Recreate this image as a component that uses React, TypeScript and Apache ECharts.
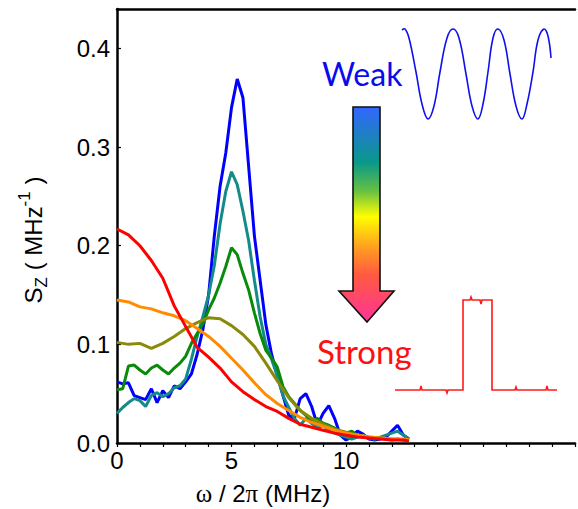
import React, { useEffect, useRef } from "react";
import * as echarts from "echarts";

// frequency grid (MHz) for the noisy spectra
const freqFine = [
  0, 0.25, 0.5, 0.75, 1, 1.25, 1.5, 1.75, 2, 2.25, 2.5, 2.75, 3, 3.25, 3.5, 3.75,
  4, 4.25, 4.5, 4.75, 5, 5.25, 5.5, 5.75, 6, 6.25, 6.5, 6.75, 7, 7.25, 7.5, 7.75,
  8, 8.25, 8.5, 8.75, 9, 9.25, 9.5, 9.75, 10, 10.25, 10.5, 10.75, 11, 11.25, 11.5, 11.75,
  12, 12.25, 12.5, 12.75,
];
const specBlue = [
  0.062, 0.06, 0.061, 0.048, 0.046, 0.044, 0.055, 0.041, 0.053, 0.046, 0.058, 0.055, 0.062, 0.07, 0.09, 0.115,
  0.15, 0.21, 0.26, 0.294, 0.34, 0.369, 0.35, 0.28, 0.21, 0.165, 0.12, 0.09, 0.068, 0.048, 0.028, 0.025,
  0.045, 0.05, 0.037, 0.018, 0.03, 0.038, 0.025, 0.008, 0.003, 0.006, 0.012, 0.009, 0.004, 0.003, 0.004, 0.006,
  0.012, 0.018, 0.008, 0.004,
];
const specTeal = [
  0.03, 0.036, 0.041, 0.045, 0.043, 0.037, 0.048, 0.051, 0.047, 0.05, 0.056, 0.058, 0.065, 0.085, 0.108, 0.128,
  0.15, 0.18, 0.222, 0.255, 0.275, 0.262, 0.235, 0.205, 0.165, 0.128, 0.1, 0.085, 0.068, 0.048, 0.036, 0.025,
  0.018, 0.025, 0.02, 0.015, 0.018, 0.012, 0.01, 0.008, 0.006, 0.004, 0.006, 0.008, 0.005, 0.004, 0.006, 0.008,
  0.01, 0.012, 0.008, 0.004,
];
const specGreen = [
  0.054, 0.055, 0.078, 0.079, 0.074, 0.07, 0.076, 0.079, 0.074, 0.07, 0.076, 0.081, 0.088, 0.101, 0.111, 0.121,
  0.135, 0.147, 0.162, 0.179, 0.198, 0.191, 0.172, 0.155, 0.132, 0.111, 0.094, 0.086, 0.077, 0.057, 0.047, 0.04,
  0.033, 0.028, 0.022, 0.025, 0.02, 0.018, 0.015, 0.012, 0.01, 0.012, 0.008, 0.006, 0.005, 0.004, 0.005, 0.004,
  0.003, 0.004, 0.003, 0.002,
];

// frequency grid (MHz) for the smooth spectra
const freqCoarse = [
  0, 0.5, 1, 1.5, 2, 2.5, 3, 3.5, 4, 4.5, 5, 5.5, 6, 6.5, 7, 7.5, 8, 8.5, 9, 9.5, 10, 10.5, 11, 11.5, 12, 12.5, 12.75,
];
const specOlive = [
  0.102, 0.1, 0.101, 0.096, 0.101, 0.108, 0.116, 0.122, 0.127, 0.126, 0.119, 0.11, 0.098, 0.081, 0.063, 0.046,
  0.033, 0.025, 0.019, 0.014, 0.011, 0.008, 0.006, 0.005, 0.004, 0.003, 0.003,
];
const specOrange = [
  0.145, 0.143, 0.138, 0.136, 0.132, 0.129, 0.124, 0.116, 0.108, 0.098, 0.086, 0.074, 0.061, 0.049, 0.04, 0.033,
  0.026, 0.021, 0.017, 0.013, 0.01, 0.008, 0.006, 0.005, 0.004, 0.004, 0.003,
];
const specRed = [
  0.217, 0.211, 0.2, 0.185, 0.167, 0.139, 0.118, 0.097, 0.087, 0.076, 0.062, 0.052, 0.044, 0.037, 0.032, 0.025,
  0.019, 0.016, 0.013, 0.01, 0.008, 0.006, 0.005, 0.004, 0.003, 0.003, 0.002,
];

const xTickLabels = [0, 5, 10];
const yTickLabels = [0, 0.1, 0.2, 0.3, 0.4];

const pair = (xs: number[], ys: number[]) => xs.map((x, i) => [x, ys[i]]);

export default function App() {
  const ref = useRef<HTMLDivElement>(null);

  useEffect(() => {
    const chart = echarts.init(ref.current!, null, { renderer: "svg" });
    const curves = [
      { name: "blue", color: "#0000ff", xs: freqFine, ys: specBlue },
      { name: "teal", color: "#148a8a", xs: freqFine, ys: specTeal },
      { name: "green", color: "#0a8a0a", xs: freqFine, ys: specGreen },
      { name: "olive", color: "#8a8a0a", xs: freqCoarse, ys: specOlive },
      { name: "orange", color: "#ff8c00", xs: freqCoarse, ys: specOrange },
      { name: "red", color: "#ff0000", xs: freqCoarse, ys: specRed },
    ];
    const axisFont = "'Liberation Sans', Arial, sans-serif";
    const arrowFill = new echarts.graphic.LinearGradient(0, 0, 0, 1, [
      { offset: 0, color: "#3366ff" },
      { offset: 0.26, color: "#0a9988" },
      { offset: 0.39, color: "#66c044" },
      { offset: 0.51, color: "#ffff00" },
      { offset: 0.65, color: "#ffa020" },
      { offset: 0.78, color: "#ff5a40" },
      { offset: 1, color: "#ff3399" },
    ]);

    chart.setOption({
      animation: false,
      backgroundColor: "#ffffff",
      grid: { left: 117, right: 3, top: 9, bottom: 66, containLabel: false, outerBoundsMode: "none" },
      xAxis: [
        {
          type: "value",
          min: 0,
          max: 20,
          interval: 1,
          axisLine: { show: true, onZero: false, lineStyle: { color: "#000", width: 2.5 } },
          axisTick: { show: true, length: 4, lineStyle: { color: "#000", width: 1.2 } },
          axisLabel: {
            formatter: (v: number) => (xTickLabels.includes(v) ? String(v) : ""),
            fontSize: 24,
            color: "#000",
            fontFamily: axisFont,
            margin: 5,
          },
          splitLine: { show: false },
        },
        {
          type: "value",
          position: "top",
          min: 0,
          max: 20,
          axisLine: { show: true, onZero: false, lineStyle: { color: "#000", width: 2.5 } },
          axisTick: { show: false },
          axisLabel: { show: false },
          splitLine: { show: false },
        },
      ],
      yAxis: {
        type: "value",
        min: 0,
        max: 0.44,
        interval: 0.1,
        axisLine: { show: true, onZero: false, lineStyle: { color: "#000", width: 2.5 } },
        axisTick: { show: true, inside: true, length: 4, lineStyle: { color: "#000", width: 1.2 } },
        axisLabel: {
          formatter: (v: number) => (yTickLabels.some((t) => Math.abs(t - v) < 1e-9) ? v.toFixed(1) : ""),
          fontSize: 24,
          color: "#000",
          fontFamily: axisFont,
          margin: 7,
        },
        splitLine: { show: false },
      },
      series: curves.map((c) => ({
        name: c.name,
        type: "line",
        xAxisIndex: 0,
        data: pair(c.xs, c.ys),
        showSymbol: false,
        symbol: "none",
        lineStyle: { color: c.color, width: 3 },
        itemStyle: { color: c.color },
      })),
      graphic: [
        {
          type: "text",
          x: 33,
          y: 240,
          rotation: Math.PI / 2,
          style: {
            text: "{m|S}{s|Z}{m| ( MHz}{p|-1}{m| )}",
            align: "center",
            verticalAlign: "middle",
            fill: "#000",
            font: `24px ${axisFont}`,
            rich: {
              m: { fontSize: 24, fontFamily: axisFont, fill: "#000", lineHeight: 34, verticalAlign: "middle" },
              s: { fontSize: 17, fontFamily: axisFont, fill: "#000", lineHeight: 17, verticalAlign: "bottom" },
              p: { fontSize: 17, fontFamily: axisFont, fill: "#000", lineHeight: 17, verticalAlign: "top" },
            },
          },
        },
        {
          type: "text",
          x: 263,
          y: 493,
          style: {
            text: "{g|ω}{n| / 2}{g|π}{n| (MHz)}",
            align: "center",
            verticalAlign: "middle",
            fill: "#000",
            rich: {
              g: { fontSize: 25, fontFamily: "'Liberation Serif', 'DejaVu Serif', serif", fill: "#000" },
              n: { fontSize: 24, fontFamily: axisFont, fill: "#000" },
            },
          },
        },
        {
          type: "text",
          x: 322,
          y: 73,
          style: { text: "Weak", fill: "#0a0aee", font: "32px Lato, 'Open Sans', sans-serif", align: "left", verticalAlign: "middle" },
        },
        {
          type: "text",
          x: 317,
          y: 351,
          style: { text: "Strong", fill: "#ff1010", font: "33px Lato, 'Open Sans', sans-serif", align: "left", verticalAlign: "middle" },
        },
        {
          type: "polygon",
          shape: {
            points: [
              [353, 107], [380, 107], [380, 291], [394, 291], [367, 322], [339, 291], [353, 291],
            ],
          },
          style: { fill: arrowFill, stroke: "#111", lineWidth: 1.6 },
        },
        {
          type: "polyline",
          shape: {
            points: [
              [402, 30], [405, 29], [409, 38], [416, 72], [422, 104], [428, 119], [434, 106], [440, 72], [447, 38],
              [453, 29], [459, 38], [466, 74], [472, 106], [478, 119], [483, 104], [488, 72], [493, 38], [498, 29],
              [504, 40], [510, 74], [516, 106], [522, 119], [527, 104], [533, 72], [538, 40], [544, 29], [548, 36], [551, 58],
            ],
            smooth: 0.4,
          },
          style: { stroke: "#1010ee", lineWidth: 1.6, fill: null },
        },
        {
          type: "polyline",
          shape: {
            points: [
              [395, 390], [420, 390], [421, 386], [422, 390], [446, 390], [447, 393], [448, 390], [463, 390],
              [463, 300], [470, 300], [471, 297], [472, 300], [480, 300], [481, 304], [482, 300], [492, 300],
              [492, 390], [515, 390], [516, 387], [517, 390], [546, 390], [547, 386], [548, 390], [557, 390],
            ],
          },
          style: { stroke: "#ff1a1a", lineWidth: 1.6, fill: null },
        },
      ],
    });
    return () => chart.dispose();
  }, []);

  return (
    <div
      ref={ref}
      style={{ position: "absolute", left: 0, top: 0, width: 578, height: 509, background: "#fff" }}
    />
  );
}
